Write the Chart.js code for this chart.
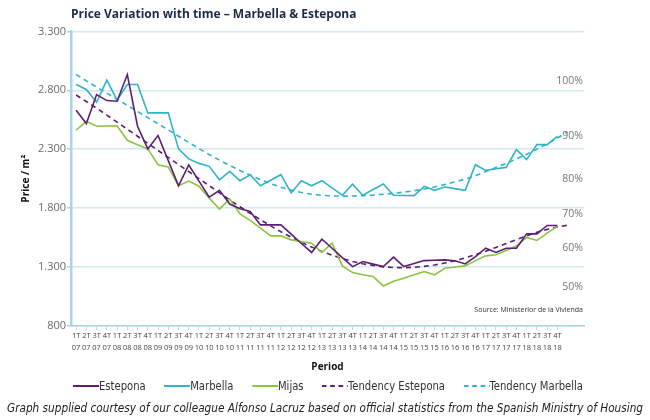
<!DOCTYPE html>
<html>
<head>
<meta charset="utf-8">
<script src="https://cdn.jsdelivr.net/npm/chart.js@4.4.1/dist/chart.umd.min.js"></script>
<style>
  html, body { margin: 0; padding: 0; background: #fff; }
  #wrap { position: relative; width: 650px; height: 420px; overflow: hidden; }
  #priceChart { position: absolute; left: 0; top: 0; }
  .narrow {
    font-family: "Liberation Sans Narrow", "DejaVu Sans Condensed", "DejaVu Sans", sans-serif;
    font-stretch: condensed; white-space: nowrap;
  }
  #legend {
    position: absolute; left: 328px; top: 377px; height: 18px;
    display: flex; align-items: center; gap: 20px;
    font-size: 12px; color: #333; transform-origin: 0 50%;
  }
  #legend .item { display: flex; align-items: center; }
  #caption {
    position: absolute; left: 325px; top: 400px;
    font-style: italic; font-size: 12.5px; color: #222; transform-origin: 0 50%;
  }
</style>
</head>
<body>
<div id="wrap">
  <canvas id="priceChart" width="650" height="420"></canvas>
  <div id="legend" class="narrow"></div>
  <div id="caption" class="narrow"></div>
</div>
<script>
// Period labels: quarter (1T..4T) over year (07..18)
const quarterLabels = [
  '1T','2T','3T','4T', '1T','2T','3T','4T', '1T','2T','3T','4T', '1T','2T','3T','4T',
  '1T','2T','3T','4T', '1T','2T','3T','4T', '1T','2T','3T','4T', '1T','2T','3T','4T',
  '1T','2T','3T','4T', '1T','2T','3T','4T', '1T','2T','3T','4T', '1T','2T','3T','4T'
];
const yearLabels = [
  '07','07','07','07', '08','08','08','08', '09','09','09','09', '10','10','10','10',
  '11','11','11','11', '12','12','12','12', '13','13','13','13', '14','14','14','14',
  '15','15','15','15', '16','16','16','16', '17','17','17','17', '18','18','18','18'
];

// Price per m2
const estepona = [
  2631, 2518, 2764, 2713, 2707, 2934, 2495, 2303, 2416, 2203, 1990, 2167,
  2030, 1894, 1951, 1835, 1795, 1772, 1658, 1658, 1658, 1580, 1500, 1424,
  1537, 1460, 1380, 1304, 1347, 1325, 1304, 1384, 1304, 1330, 1355, 1358,
  1361, 1353, 1327, 1389, 1460, 1424, 1460, 1460, 1582, 1582, 1653, 1653
];
const marbella = [
  2849, 2807, 2699, 2886, 2716, 2849, 2849, 2609, 2609, 2609, 2303, 2218,
  2180, 2155, 2041, 2112, 2033, 2084, 1990, 2037, 2084, 1929, 2033, 1990,
  2033, 1972, 1910, 2003, 1910, 1958, 2005, 1910, 1907, 1906, 1985, 1951,
  1980, 1966, 1951, 2169, 2121, 2134, 2146, 2297, 2212, 2339, 2339, 2410
];
const mijas = [
  2461, 2537, 2495, 2497, 2499, 2376, 2339, 2303, 2169, 2150, 1990, 2030,
  1986, 1885, 1792, 1877, 1752, 1696, 1630, 1565, 1565, 1531, 1517, 1503,
  1424, 1503, 1310, 1253, 1235, 1220, 1140, 1180, 1205, 1234, 1262, 1234,
  1290, 1300, 1310, 1355, 1395, 1404, 1440, 1478, 1551, 1526, 1588, 1645
];
// Trend lines run one period past the data
const trendEstepona = [
  2760, 2705, 2648, 2590, 2530, 2470, 2410, 2350, 2290, 2230, 2170, 2110,
  2050, 1990, 1930, 1870, 1812, 1756, 1702, 1650, 1600, 1553, 1510, 1470,
  1433, 1400, 1372, 1348, 1328, 1313, 1302, 1296, 1295, 1298, 1306, 1318,
  1334, 1354, 1378, 1405, 1435, 1467, 1500, 1533, 1565, 1595, 1620, 1640, 1655
];
const trendMarbella = [
  2934, 2880, 2828, 2776, 2724, 2672, 2620, 2568, 2516, 2464, 2410, 2358,
  2305, 2255, 2208, 2163, 2120, 2080, 2042, 2008, 1978, 1953, 1933, 1918,
  1909, 1904, 1902, 1903, 1906, 1911, 1918, 1926, 1936, 1948, 1963, 1980,
  2000, 2022, 2047, 2074, 2110, 2145, 2180, 2218, 2258, 2300, 2345, 2395, 2448
];

// Percentage notes on the right side, anchored at price values
const percentLabels = ['100%', '90%', '80%', '70%', '60%', '50%'];
const percentAnchors = [2877, 2416, 2047, 1752, 1461, 1134];
const sourceNote = 'Source: Ministerior de la Vivienda';
const sourceAnchor = 936;

const caption = 'Graph supplied courtesy of our colleague Alfonso Lacruz based on official statistics from the Spanish Ministry of Housing';

const purple = '#5c1f73';
const teal = '#2fb4c8';
const green = '#8cc43f';

function toPoints(values) {
  return values.map((v, i) => ({ x: i, y: v }));
}

function formatThousands(v) {
  return String(v).replace(/\B(?=(\d{3})+(?!\d))/g, '.');
}

// Draws the percentage notes and the source line inside the plot
const sideLabels = {
  id: 'sideLabels',
  afterDatasetsDraw(chart) {
    const { ctx, chartArea, scales } = chart;
    ctx.save();
    ctx.textAlign = 'right';
    ctx.textBaseline = 'middle';
    ctx.font = '10.5px "Open Sans"';
    ctx.fillStyle = '#777';
    percentLabels.forEach((t, i) => {
      ctx.fillText(t, chartArea.right - 1, scales.y.getPixelForValue(percentAnchors[i]));
    });
    ctx.font = '7px "Open Sans"';
    ctx.fillStyle = '#333';
    ctx.fillText(sourceNote, chartArea.right - 1, scales.y.getPixelForValue(sourceAnchor));
    ctx.restore();
  }
};

function lineSet(label, values, color, dashed) {
  return {
    label: label,
    data: toPoints(values),
    borderColor: color,
    backgroundColor: color,
    borderWidth: 1.6,
    borderDash: dashed ? [5, 4] : [],
    pointRadius: 0,
    pointHoverRadius: 0,
    tension: 0,
    fill: false
  };
}

// Squeezes a text block horizontally so it spans the given width, centred on its left anchor
function fitWidth(el, targetWidth) {
  const w = el.getBoundingClientRect().width;
  const k = targetWidth / w;
  el.style.transform = `translateX(${-targetWidth / 2}px) scaleX(${k})`;
}

// Builds the legend below the chart from the datasets
function buildLegend(chart) {
  const box = document.getElementById('legend');
  chart.data.datasets.forEach(ds => {
    const item = document.createElement('span');
    item.className = 'item';
    const dash = ds.borderDash.length ? ` stroke-dasharray="${ds.borderDash.join(' ')}"` : '';
    item.innerHTML = `<svg width="28" height="6"><line x1="0" y1="3" x2="28" y2="3" stroke="${ds.borderColor}" stroke-width="2"${dash}/></svg>`;
    const label = document.createElement('span');
    label.textContent = ds.label;
    item.appendChild(label);
    box.appendChild(item);
  });
  fitWidth(box, 510);
}

const ctx = document.getElementById('priceChart').getContext('2d');
const myChart = new Chart(ctx, {
  type: 'line',
  data: {
    datasets: [
      lineSet('Estepona', estepona, purple, false),
      lineSet('Marbella', marbella, teal, false),
      lineSet('Mijas', mijas, green, false),
      lineSet('Tendency Estepona', trendEstepona, purple, true),
      lineSet('Tendency Marbella', trendMarbella, teal, true)
    ]
  },
  options: {
    responsive: false,
    animation: false,
    devicePixelRatio: 1,
    layout: { padding: { left: 0, right: 66, top: 0, bottom: 44 } },
    scales: {
      x: {
        type: 'linear',
        min: -0.5,
        max: 49.6,
        afterBuildTicks(axis) {
          axis.ticks = quarterLabels.map((q, i) => ({ value: i }));
        },
        afterFit(axis) {
          axis.height = 50;
        },
        ticks: {
          autoSkip: false,
          maxRotation: 0,
          padding: 0,
          color: '#444',
          font: { family: 'Open Sans', size: 7.5, lineHeight: 1.6 },
          callback: (value) => [quarterLabels[value], yearLabels[value]]
        },
        grid: { drawOnChartArea: false, tickLength: 4, color: '#b3d9ec' },
        border: { color: '#a9d3ea', width: 1.5 },
        title: {
          display: true,
          text: 'Period',
          color: '#111',
          font: { family: 'Open Sans', size: 10, weight: 'bold' },
          padding: { top: 0, bottom: 3 }
        }
      },
      y: {
        min: 800,
        max: 3300,
        afterFit(axis) {
          axis.width = 71;
        },
        ticks: {
          stepSize: 500,
          padding: 1,
          color: '#6b6b6b',
          font: { family: 'Open Sans', size: 11 },
          callback: (v) => formatThousands(v)
        },
        grid: { color: '#d3e8f3', lineWidth: 1.5, tickLength: 4, tickColor: '#a9d3ea' },
        border: { color: '#a9d3ea', width: 2.5 },
        title: {
          display: true,
          text: 'Price / m²',
          color: '#111',
          font: { family: 'Open Sans', size: 10, weight: 'bold' },
          padding: { top: 20, bottom: 0 }
        }
      }
    },
    plugins: {
      title: {
        display: true,
        text: 'Price Variation with time – Marbella & Estepona',
        align: 'start',
        fullSize: false,
        color: '#1c2b4a',
        font: { family: 'Open Sans', size: 12, weight: 'bold' },
        padding: { top: 7, bottom: 10 }
      },
      legend: { display: false },
      tooltip: { enabled: false }
    }
  },
  plugins: [sideLabels]
});

buildLegend(myChart);
const captionBox = document.getElementById('caption');
captionBox.textContent = caption;
fitWidth(captionBox, 636);
</script>
</body>
</html>
